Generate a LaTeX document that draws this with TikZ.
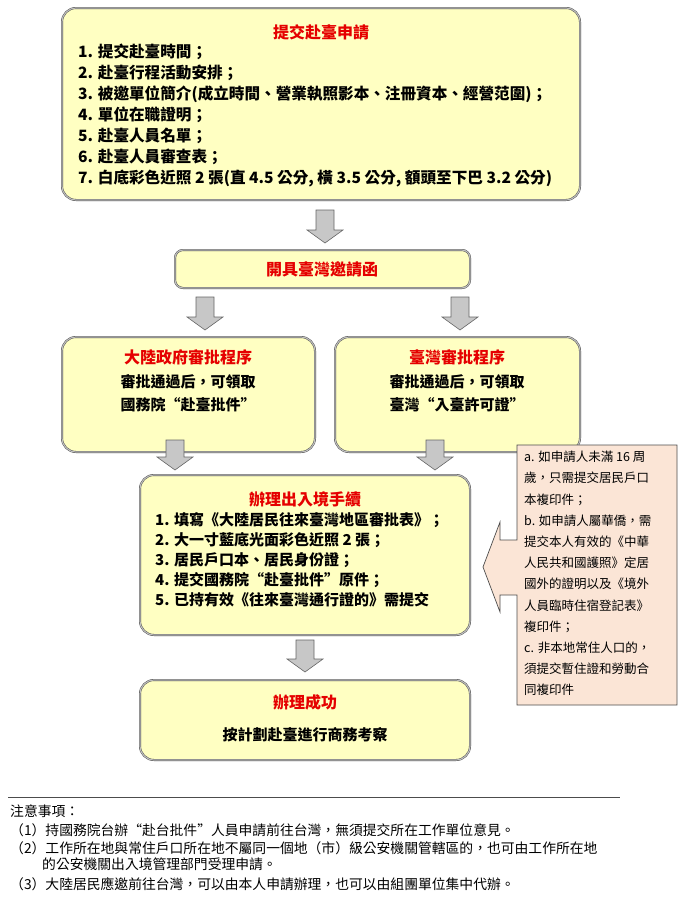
\documentclass[tikz,border=0pt]{standalone}
\usepackage{fontspec}
\setmainfont{Noto Sans CJK TC}
\begin{document}
\begin{tikzpicture}[x=1pt,y=-1pt,
  box/.style={draw=black!75,double=black!25,double distance=1.2pt,fill=yellowbox,rounded corners=14pt},
  ttl/.style={font=\bfseries\fontsize{16}{18}\selectfont,text=red!90!black},
  lst/.style={font=\bfseries\fontsize{15.6}{21}\selectfont,align=left,anchor=north west,inner sep=0},
  ctr/.style={font=\bfseries\fontsize{15}{23}\selectfont,align=center},
  barr/.style={draw=black!60,fill=black!22,line width=0.6pt},
  note/.style={font=\fontsize{13.8}{14}\selectfont,anchor=west,inner sep=0}]
\definecolor{yellowbox}{HTML}{FFFFC2}
\definecolor{pinkbox}{HTML}{FBE5D6}
\useasboundingbox (0,0) rectangle (680,900);
\newcommand\blkdown[3]{\draw[barr] (#1-9,#2) -- (#1+9,#2) -- (#1+9,#3-13) -- (#1+18,#3-13) -- (#1,#3) -- (#1-18,#3-13) -- (#1-9,#3-13) -- cycle;}
% box 1
\draw[box] (62,8) rectangle (580,200);
\node[ttl] (t1) at (321,32) {提交赴臺申請};
\node[lst] (l1) at (78,44) {1. 提交赴臺時間；\\2. 赴臺行程活動安排；\\3. 被邀單位簡介(成立時間、營業執照影本、注冊資本、經營范圍)；\\4. 單位在職證明；\\5. 赴臺人員名單；\\6. 赴臺人員審查表；\\7. 白底彩色近照 2 張(直 4.5 公分, 橫 3.5 公分, 額頭至下巴 3.2 公分)};
\blkdown{325}{210}{243}
% box 2
\draw[box,rounded corners=8pt] (175,250) rectangle (470,288);
\node[ttl] (t2) at (322,269) {開具臺灣邀請函};
\blkdown{205}{297}{330}
\blkdown{460}{297}{330}
% box 3,4
\draw[box] (62,337) rectangle (315,452);
\node[ttl] (t3) at (188,357) {大陸政府審批程序};
\node[ctr] (c3) at (188,393) {審批通過后，可領取\\國務院“赴臺批件”};
\draw[box] (335,337) rectangle (580,452);
\node[ttl] (t4) at (457,357) {臺灣審批程序};
\node[ctr] (c4) at (457,393) {審批通過后，可領取\\臺灣“入臺許可證”};
\blkdown{175}{440}{470}
\blkdown{435}{440}{470}
% box 5
\draw[box] (140,475) rectangle (470,635);
\node[ttl] (t5) at (305,499) {辦理出入境手續};
\node[lst,font=\bfseries\fontsize{15}{20}\selectfont] (l5) at (155,512) {1. 填寫《大陸居民往來臺灣地區審批表》；\\2. 大一寸藍底光面彩色近照 2 張；\\3. 居民戶口本、居民身份證；\\4. 提交國務院“赴臺批件”原件；\\5. 已持有效《往來臺灣通行證的》需提交};
% side box
\draw[fill=pinkbox,draw=black!70,line width=0.7pt] (517,445) -- (677,445) -- (677,705) -- (517,705) -- (517,595) -- (500,595) -- (500,612) -- (483,567) -- (500,522) -- (500,540) -- (517,540) -- cycle;
\node[anchor=north west,inner sep=0,align=left,font=\fontsize{12.5}{21.2}\selectfont] (side) at (524,451) {a. 如申請人未滿 16 周\\歲，只需提交居民戶口\\本複印件；\\b. 如申請人屬華僑，需\\提交本人有效的《中華\\人民共和國護照》定居\\國外的證明以及《境外\\人員臨時住宿登記表》\\複印件；\\c. 非本地常住人口的，\\須提交暫住證和勞動合\\同複印件};
\blkdown{305}{640}{672}
% box 6
\draw[box] (140,680) rectangle (470,760);
\node[ttl] (t6) at (305,702) {辦理成功};
\node[ctr] (c6) at (305,735) {按計劃赴臺進行商務考察};
% notes
\draw[black!70,line width=0.8pt] (8,797) -- (620,797);
\node[note] (n0) at (10,811) {注意事項：};
\node[note] (n1) at (10,830) {（1）持國務院台辦“赴台批件”人員申請前往台灣，無須提交所在工作單位意見。};
\node[note] (n2) at (10,848) {（2）工作所在地與常住戶口所在地不屬同一個地（市）級公安機關管轄區的，也可由工作所在地};
\node[note] (n2b) at (42,864) {的公安機關出入境管理部門受理申請。};
\node[note] (n3) at (10,884) {（3）大陸居民應邀前往台灣，可以由本人申請辦理，也可以由組團單位集中代辦。};
\end{tikzpicture}
\end{document}
